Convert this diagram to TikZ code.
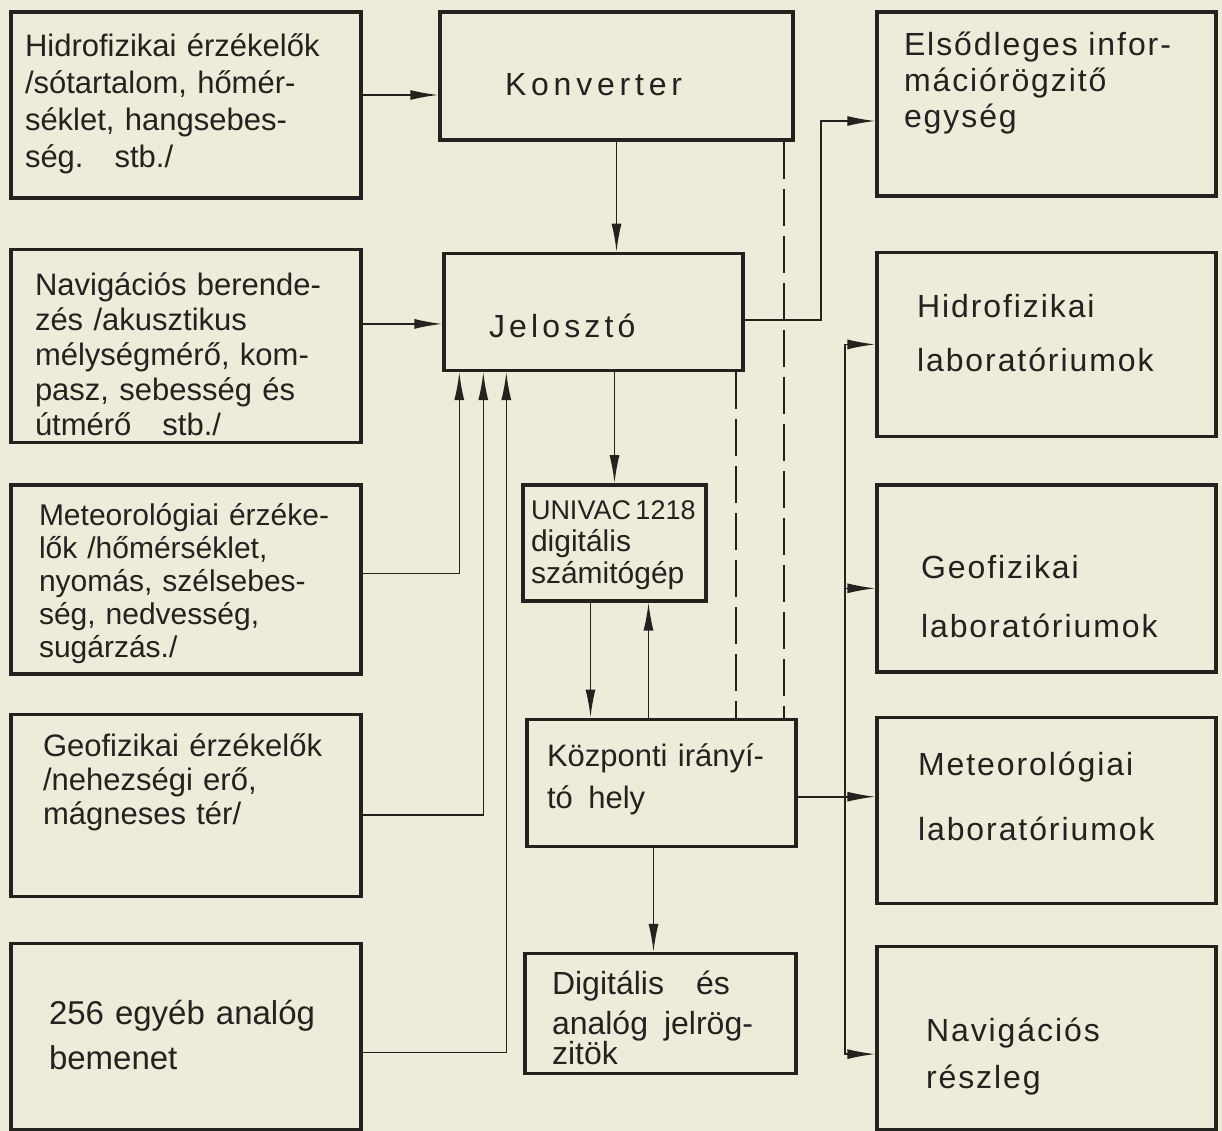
\documentclass[tikz,border=0pt]{standalone}
\usepackage{fontspec}
\setmainfont{Liberation Sans}
\usetikzlibrary{positioning,arrows.meta}
\definecolor{paper}{RGB}{237,235,218}
\definecolor{ink}{RGB}{36,34,31}

\begin{document}
\begin{tikzpicture}[
    x=1pt, y=-1pt,
    box/.style={rectangle, draw=ink, line width=3.4pt, text=ink, align=left, inner ysep=0pt, text height=0pt},
    line/.style={draw=ink, line width=1.6pt, -{Latex[length=28pt, width=10pt]}},
    dashline/.style={draw=ink, line width=2pt, dash pattern=on 37pt off 10pt}
]
    \useasboundingbox (0,0) rectangle (1222,1131);
    \fill[paper] (0,0) rectangle (1222,1131);

    % Sensors (left)
    \node [box, minimum width=350pt, minimum height=186pt, inner xsep=14pt, text width=322pt, text depth=96pt,
           font=\fontsize{31}{37}\selectfont] (l1) at (186,105)
          {Hidrofizikai érzékelők\\/sótartalom, hőmér-\\séklet, hangsebes-\\ség.\quad stb./};
    \node [box, minimum width=350pt, minimum height=193pt, inner xsep=24pt, text width=302pt, text depth=101pt,
           font=\fontsize{31}{35}\selectfont, below=48pt of l1] (l2)
          {Navigációs berende-\\zés /akusztikus\\mélységmérő, kom-\\pasz, sebesség és\\útmérő\quad stb./};
    \node [box, minimum width=350pt, minimum height=189pt, inner xsep=28pt, text width=294pt, text depth=107pt,
           font=\fontsize{30}{33}\selectfont, below=39pt of l2] (l3)
          {Meteorológiai érzéke-\\lők /hőmérséklet,\\nyomás, szélsebes-\\ség, nedvesség,\\sugárzás./};
    \node [box, minimum width=350pt, minimum height=182pt, inner xsep=32pt, text width=286pt, text depth=98pt,
           font=\fontsize{31}{34}\selectfont, below=37pt of l3] (l4)
          {Geofizikai érzékelők\\/nehezségi erő,\\mágneses tér/};
    \node [box, minimum width=350pt, minimum height=186pt, inner xsep=38pt, text width=274pt, text depth=24pt,
           font=\fontsize{33}{45}\selectfont, below=44pt of l4] (l5)
          {256 egyéb analóg\\bemenet};

    % Processing (middle)
    \node [box, minimum width=353pt, minimum height=128pt, inner xsep=65pt, text width=223pt, text height=40pt, text depth=0pt,
           font=\fontsize{32}{37}\selectfont\addfontfeatures{LetterSpace=15}] (konv) at (616.5,76) {Konverter};
    \node [box, minimum width=299pt, minimum height=117pt, inner xsep=45pt, text width=209pt, text height=51pt, text depth=0pt,
           font=\fontsize{32}{37}\selectfont\addfontfeatures{LetterSpace=13}, below=110pt of konv, xshift=-23pt] (jel) {Jelosztó};
    \node [box, minimum width=183pt, minimum height=116pt, inner xsep=8pt, text width=167pt, text depth=46pt,
           font=\fontsize{27}{32}\selectfont, below=111pt of jel, xshift=21pt] (univac)
          {UNIVAC\,1218\\{\fontsize{30}{32}\selectfont digitális}\\{\fontsize{30}{32}\selectfont számitógép}};
    \node [box, minimum width=269pt, minimum height=127pt, inner xsep=20pt, text width=229pt, text depth=33pt,
           font=\fontsize{31}{42}\selectfont, below=115pt of univac, xshift=47pt] (kozp)
          {Központi irányí-\\tó\enspace hely};
    \node [box, minimum width=271pt, minimum height=120pt, inner xsep=27pt, text width=217pt, text depth=38pt,
           font=\fontsize{32}{40}\selectfont, below=104pt of kozp, xshift=-1pt] (digit)
          {Digitális\quad és\\analóg\enspace jelrög-\\[-10pt]zitök};

    % Users (right)
    \node [box, minimum width=339pt, minimum height=184pt, inner xsep=27pt, text width=285pt, text depth=96pt,
           font=\fontsize{32}{36}\selectfont\addfontfeatures{LetterSpace=6}] (r1) at (1046.5,104)
          {Elsődleges infor-\\mációrögzitő\\egység};
    \node [box, minimum width=339pt, minimum height=184pt, inner xsep=40pt, text width=259pt, text depth=54pt,
           font=\fontsize{32}{54}\selectfont\addfontfeatures{LetterSpace=6}, below=53pt of r1] (r2)
          {Hidrofizikai\\laboratóriumok};
    \node [box, minimum width=339pt, minimum height=187pt, inner xsep=44pt, text width=251pt, text depth=0pt,
           font=\fontsize{32}{59}\selectfont\addfontfeatures{LetterSpace=6}, below=45pt of r2] (r3)
          {Geofizikai\\laboratóriumok};
    \node [box, minimum width=339pt, minimum height=186pt, inner xsep=41pt, text width=257pt, text depth=70pt,
           font=\fontsize{32}{65}\selectfont\addfontfeatures{LetterSpace=6}, below=42pt of r3] (r4)
          {Meteorológiai\\laboratóriumok};
    \node [box, minimum width=339pt, minimum height=183pt, inner xsep=49pt, text width=241pt, text height=7pt, text depth=0pt,
           font=\fontsize{32}{47}\selectfont\addfontfeatures{LetterSpace=6}, below=40pt of r4] (r5)
          {Navigációs\\részleg};

    \coordinate (bus) at (845,795);

    % Inputs
    \path [line] ([yshift=10pt]l1.east) -- ([yshift=10pt]l1.east -| konv.west);
    \path [line] ([yshift=22pt]l2.east) -- ([yshift=22pt]l2.east -| jel.west);
    \path [line] ([yshift=6pt]l3.east) -| ([xshift=17pt]jel.south west);
    \path [line] ([yshift=-10pt]l4.east) -| ([xshift=41pt]jel.south west);
    \path [line] ([yshift=-16pt]l5.east) -| ([xshift=64pt]jel.south west);

    % Main chain
    \path [line] (konv.south) -- (konv.south |- jel.north);
    \path [line] (univac.north |- jel.south) -- (univac.north);
    \path [line] ([xshift=-24pt]univac.south) -- ([xshift=-24pt]univac.south |- kozp.north);
    \path [line] ([xshift=34pt]univac.south |- kozp.north) -- ([xshift=34pt]univac.south);
    \path [line] ([xshift=-8pt]kozp.south) -- ([xshift=-8pt]kozp.south |- digit.north);
    \path [dashline] ([xshift=-11pt]konv.south east) -- ([xshift=-11pt]konv.south east |- kozp.north);
    \path [dashline] ([xshift=-9pt]jel.south east) -- ([xshift=-9pt]jel.south east |- kozp.north);

    % Outputs
    \path [line] ([yshift=-8pt]jel.east) -- ++(76,0) |- ([yshift=-17pt]r1.west);
    \path [line] ([yshift=-14pt]kozp.east) -- ([yshift=-14pt]kozp.east -| r4.west);
    \path [line] (bus) |- (r2.west);
    \path [line] (bus) |- ([yshift=-10pt]r3.west);
    \path [line] (bus) |- ([yshift=-16pt]r5.west);

\end{tikzpicture}
\end{document}
